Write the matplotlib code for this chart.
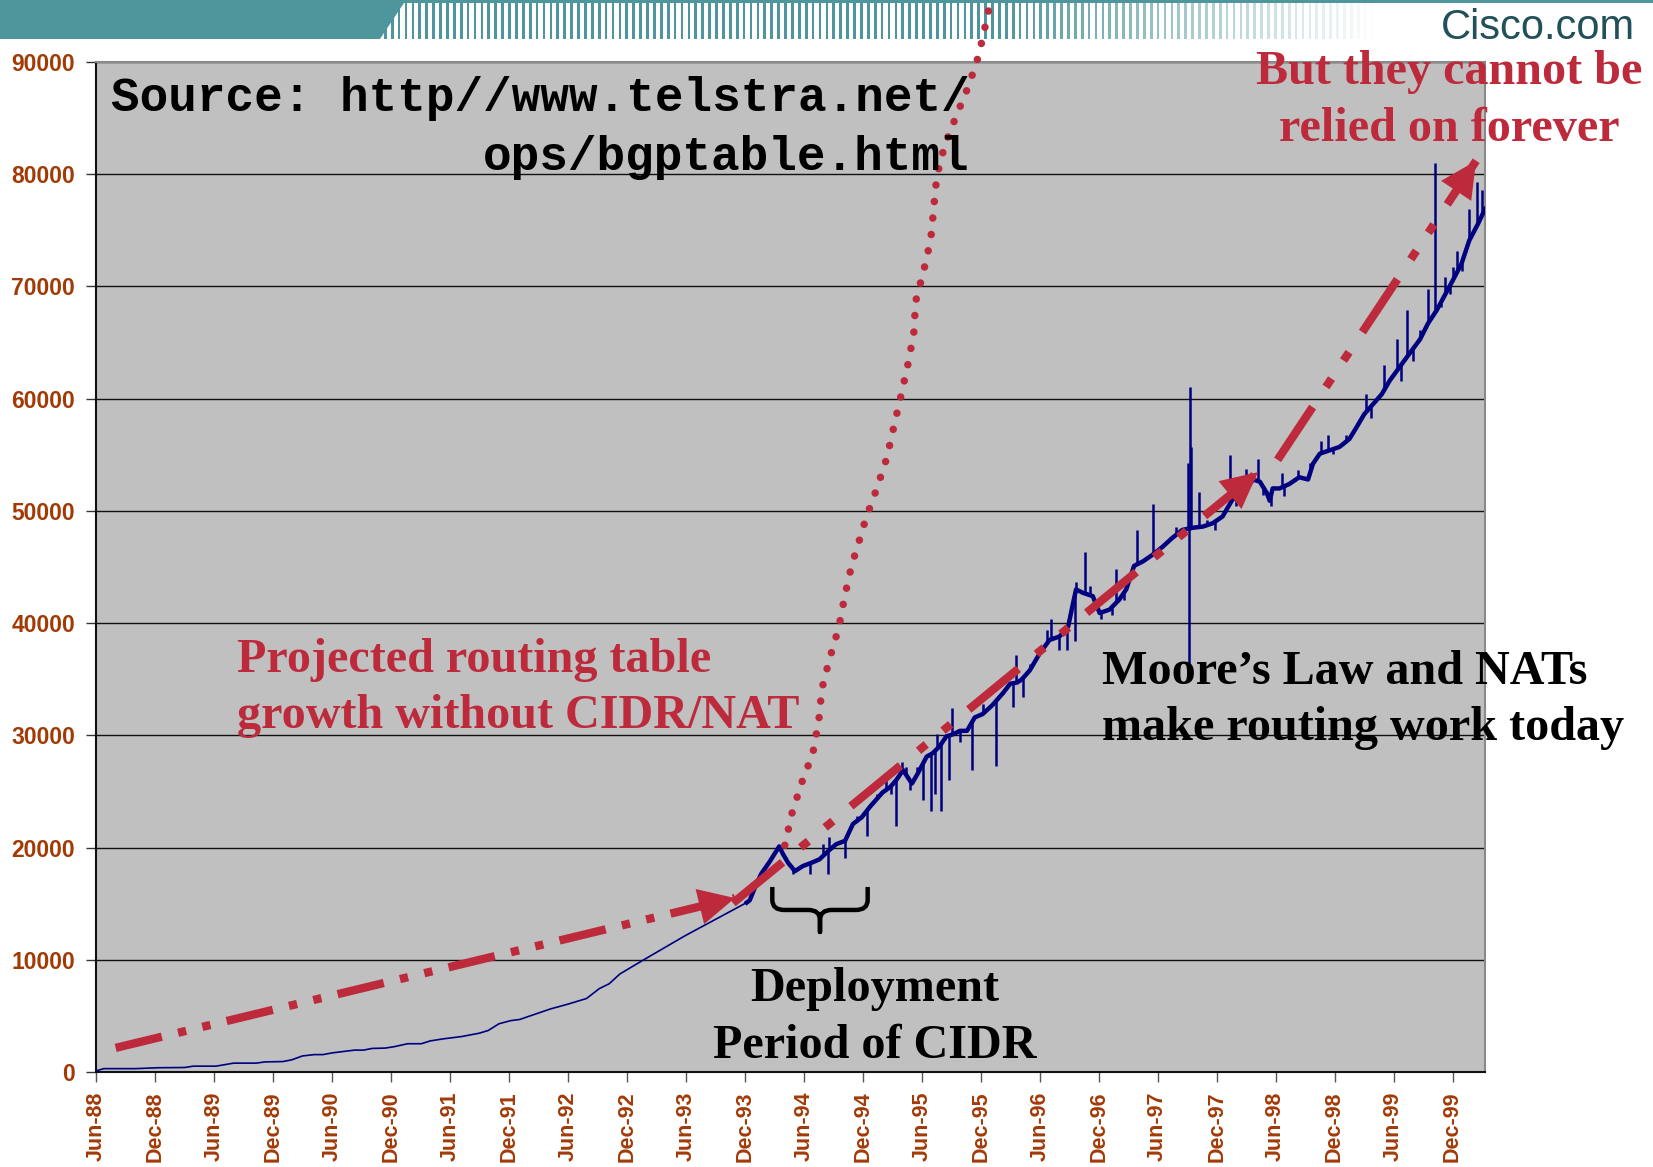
import numpy as np
import matplotlib
matplotlib.use('Agg')
import matplotlib.pyplot as plt
from matplotlib.path import Path
from matplotlib.patches import PathPatch, Polygon, Rectangle

# x axis: months since Jun-88
tick_months = [0, 6, 12, 18, 24, 30, 36, 42, 48, 54, 60, 66,
               72, 78, 84, 90, 96, 102, 108, 114, 120, 126, 132, 138]
tick_labels = ['Jun-88', 'Dec-88', 'Jun-89', 'Dec-89', 'Jun-90', 'Dec-90',
               'Jun-91', 'Dec-91', 'Jun-92', 'Dec-92', 'Jun-93', 'Dec-93',
               'Jun-94', 'Dec-94', 'Jun-95', 'Dec-95', 'Jun-96', 'Dec-96',
               'Jun-97', 'Dec-97', 'Jun-98', 'Dec-98', 'Jun-99', 'Dec-99']
y_ticks = [0, 10000, 20000, 30000, 40000, 50000, 60000, 70000, 80000, 90000]

# early (monthly) routing table size
early_m = [0, 0.8, 4, 6.3, 9, 9.9, 12.2, 14, 16.3, 17.2, 19, 19.9, 21, 22.2,
           23.1, 24, 26.3, 27.2, 28.1, 29.4, 30.3, 31.7, 33.1, 34, 35.3, 37.2,
           39, 39.9, 41, 42.2, 43.1, 44.4, 46.2, 48.1, 49.9, 51.2, 52.2, 53.3,
           55.8, 59.9, 66.2]
early_v = [100, 300, 300, 380, 400, 520, 520, 790, 790, 900, 930, 1080, 1430,
           1550, 1550, 1700, 1950, 1950, 2100, 2130, 2250, 2520, 2520, 2770,
           2950, 3160, 3460, 3700, 4300, 4580, 4680, 5070, 5610, 6070, 6550,
           7430, 7860, 8740, 10040, 12130, 15100]

# daily samples from Dec-93 onwards
daily_m = [66.2, 66.5, 67.2, 67.7, 68.5, 69.5, 69.9, 70.4, 71.1, 71.9, 72.8,
           73.6, 74.5, 75.3, 76.2, 77.0, 77.9, 78.7, 79.4, 80.0, 80.8, 81.4,
           82.1, 83.0, 83.6, 84.5, 85.1, 85.8, 86.5, 87.2, 87.9, 88.6, 89.4,
           90.2, 91.2, 92.3, 93.0, 93.7, 94.2, 95.0, 96.0, 97.0, 98.0, 98.9,
           99.4, 99.7, 100.4, 101.4, 102.1, 103.1, 104.1, 104.8, 105.6, 106.5,
           107.5, 108.5, 109.5, 110.5, 111.6, 112.6, 113.6, 114.6, 115.6,
           116.6, 117.7, 118.4, 119.1, 119.4, 119.7, 120.4, 121.4, 122.4,
           123.3, 123.8, 124.5, 125.5, 126.5, 127.5, 128.2, 129.0, 129.9,
           130.8, 131.6, 132.6, 133.6, 134.7, 135.5, 136.4, 137.2, 138.0,
           138.9, 139.7, 140.6, 141.3]
daily_v = [15100, 15300, 16800, 17700, 18700, 20100, 19400, 18650, 17900,
           18350, 18650, 18950, 19700, 20300, 20600, 22100, 22700, 23600,
           24300, 24900, 25400, 26000, 26900, 25700, 26600, 28100, 28400,
           29000, 29900, 30100, 30400, 30400, 31600, 31900, 32700, 33800,
           34600, 34700, 35000, 35800, 37300, 38500, 38800, 39700, 41800,
           43000, 42700, 42400, 40900, 41200, 42100, 43000, 45100, 45500,
           46100, 46800, 47600, 48300, 48500, 48600, 48900, 49500, 51000,
           51400, 52800, 52600, 51600, 50900, 52000, 52000, 52400, 53000,
           52800, 54200, 55100, 55400, 55700, 56400, 57400, 58600, 59500,
           60400, 61600, 62800, 64000, 65300, 66700, 67900, 69200, 70500,
           72000, 74100, 75600, 76900]

# single-day outliers (month, value)
spike_m = [67.9, 68.9, 70.9, 72.6, 74.0, 74.5, 74.6, 76.2, 77.4, 78.4, 79.4,
           80.4, 80.9, 81.4, 82.0, 82.4, 82.8, 83.5, 84.1, 84.8, 84.9, 85.3,
           85.6, 86.0, 86.8, 87.1, 87.9, 89.1, 90.2, 91.6, 92.3, 93.3, 93.6,
           94.3, 95.0, 96.7, 97.2, 98.0, 98.8, 99.6, 99.7, 100.6, 101.1,
           101.6, 102.2, 103.4, 103.8, 104.6, 105.9, 106.8, 107.5, 108.9,
           109.9, 111.1, 111.15, 111.3, 111.4, 112.2, 113.0, 113.8, 114.8,
           115.4, 116.0, 117.0, 118.2, 118.7, 119.5, 120.7, 120.9, 122.3,
           123.5, 124.6, 125.3, 125.8, 127.2, 129.2, 129.7, 131.0, 132.3,
           132.8, 133.4, 134.0, 134.7, 135.5, 136.2, 136.8, 137.2, 137.7,
           138.0, 138.5, 139.0, 139.7, 140.1, 140.5, 141.0]
spike_v = [17900, 19400, 17600, 17600, 20300, 17600, 20900, 19100, 22800,
           21000, 24800, 26000, 24800, 21900, 27600, 27200, 25100, 27200,
           24200, 28100, 23300, 24800, 30100, 23300, 26000, 32400, 29400,
           26900, 32800, 27300, 33700, 32500, 37200, 33400, 36400, 39400,
           40400, 37600, 37600, 38400, 43700, 46300, 43300, 41800, 40400,
           40700, 44800, 42100, 48300, 45900, 50600, 47100, 48600, 54300,
           36400, 61000, 55700, 51700, 49200, 48300, 50100, 55000, 50400,
           53700, 54600, 51400, 50400, 53400, 51300, 53600, 54300, 56200,
           56800, 55100, 56800, 60400, 58300, 63000, 65300, 61600, 67900,
           63400, 66100, 69800, 81000, 68200, 70800, 69300, 71700, 73200,
           71400, 76900, 74700, 79300, 78600]

# projected growth without CIDR/NAT
proj_m = [70.07, 70.78, 71.80, 72.92, 73.53, 73.83, 74.65, 75.56, 76.17,
          76.88, 77.39, 78.31, 79.43, 80.44, 81.16, 81.87, 82.58, 83.19,
          83.39, 84.20, 84.92, 85.22, 85.53, 86.34, 87.56, 88.78, 89.80,
          90.51, 91.02]
proj_v = [20200, 23000, 25800, 28400, 31300, 34100, 36900, 39600, 42400,
          45200, 46600, 49300, 52000, 54700, 57500, 60200, 63000, 65800,
          68700, 71400, 74200, 77000, 79800, 82600, 85300, 87900, 90600,
          93400, 95500]

# trend arrows (start, tip)
arrow1_m, arrow1_v = [2.0, 65.0], [2150, 15500]
arrow2_m, arrow2_v = [64.8, 118.2], [15060, 53450]
arrow3_m, arrow3_v = [120.2, 140.4], [54550, 81200]

RED = '#BD2A3B'
BLUE = '#000080'
TICKC = '#A23A06'

W, H = 1653, 1167
fig = plt.figure(figsize=(W / 100, H / 100), dpi=100)
fig.patch.set_facecolor('white')

# --- banner on top
bax = fig.add_axes([0, 0, 1, 1], zorder=0)
bax.set_xlim(0, W)
bax.set_ylim(H, 0)
bax.axis('off')
teal = np.array([0x4F, 0x96, 0x9C]) / 255
bax.add_patch(Polygon([(0, 0), (406, 0), (380, 39), (0, 39)], closed=True,
                      facecolor=teal, edgecolor='none'))
bax.add_patch(Rectangle((0, 0), W, 3, facecolor=teal, edgecolor='none'))
for sx in np.arange(384, 1380, 6.9):
    f = np.clip((sx - 1000) / 380, 0, 1)
    c = teal * (1 - f) + np.ones(3) * f
    bax.add_patch(Rectangle((sx, 3), 2.7, 36, facecolor=c, edgecolor='none'))
bax.text(1441, 39, 'Cisco.com', fontsize=30, color='#22505A',
         family=['Liberation Sans', 'DejaVu Sans'], ha='left', va='baseline')

# --- main chart
ax = fig.add_axes([96 / W, 1 - 1072 / H, (1485 - 96) / W, (1072 - 62) / H],
                  zorder=1)
ax.set_facecolor('#C0C0C0')
ax.set_xlim(0, 141.3)
ax.set_ylim(0, 90000)
ax.set_yticks(y_ticks)
ax.set_yticklabels([str(v) for v in y_ticks])
ax.set_xticks(tick_months)
ax.set_xticklabels(tick_labels, rotation=90)
for lab in ax.get_xticklabels() + ax.get_yticklabels():
    lab.set_family(['Liberation Sans', 'DejaVu Sans'])
    lab.set_fontweight('bold')
    lab.set_color(TICKC)
    lab.set_fontsize(15.5)
for lab in ax.get_yticklabels():
    lab.set_fontsize(16.5)
ax.tick_params(axis='y', length=7, width=1, pad=8, color='#333333')
ax.tick_params(axis='x', length=7, width=1, pad=7, color='#555555')
ax.grid(axis='y', color='#111111', lw=1)
ax.set_axisbelow(True)
for side in ['top', 'right']:
    ax.spines[side].set_color('#8A8A8A')
    ax.spines[side].set_linewidth(1.5)
for side in ['left', 'bottom']:
    ax.spines[side].set_color('#111111')
    ax.spines[side].set_linewidth(1.5)

ax.plot(early_m, early_v, color=BLUE, lw=1.2, zorder=3)
ax.plot(daily_m, daily_v, color=BLUE, lw=3.2, zorder=3)
base = np.interp(spike_m, daily_m, daily_v)
ax.vlines(spike_m, base, spike_v, color=BLUE, lw=1.8, zorder=3)

ax.plot(proj_m, proj_v, color=RED, lw=5.4, linestyle=(0, (0.01, 2.2)),
        dash_capstyle='round', clip_on=False, zorder=5)

LW = 6


def trend_arrow(xs, ys, dashes):
    ax.plot(xs, ys, color=RED, lw=LW, dashes=dashes,
            dash_capstyle='butt', solid_capstyle='butt', zorder=5)
    ax.annotate('', xy=(xs[-1], ys[-1]), xytext=(xs[0], ys[0]),
                arrowprops=dict(arrowstyle='-|>,head_length=26,head_width=13',
                                color=RED, lw=0, mutation_scale=1,
                                shrinkA=0, shrinkB=0), zorder=6)


trend_arrow(arrow1_m, arrow1_v, (5.7, 2.0, 1.0, 2.0, 1.0, 2.0))
trend_arrow(arrow2_m, arrow2_v, (7.7, 2.8, 1.2, 2.6, 1.2, 2.8))
trend_arrow(arrow3_m, arrow3_v, (7.6, 2.9, 1.2, 2.6, 1.2, 2.9))

# brace under the deployment period
bx0, bx1, btop, bmid, btip = 68.8, 78.5, 16490, 14440, 12480
rx, ry = 1.2, 900
bxc = (bx0 + bx1) / 2
verts = [(bx0, btop), (bx0, bmid + ry), (bx0, bmid), (bx0 + rx, bmid),
         (bxc - rx, bmid), (bxc, bmid), (bxc, bmid - ry), (bxc, btip),
         (bxc, bmid - ry), (bxc, bmid), (bxc + rx, bmid),
         (bx1 - rx, bmid), (bx1, bmid), (bx1, bmid + ry), (bx1, btop)]
codes = [Path.MOVETO, Path.LINETO, Path.CURVE3, Path.CURVE3,
         Path.LINETO, Path.CURVE3, Path.CURVE3, Path.LINETO,
         Path.LINETO, Path.CURVE3, Path.CURVE3,
         Path.LINETO, Path.CURVE3, Path.CURVE3, Path.LINETO]
ax.add_patch(PathPatch(Path(verts, codes), facecolor='none', edgecolor='black',
                       lw=3.2, capstyle='butt', joinstyle='round', zorder=6))

serif = ['Liberation Serif', 'DejaVu Serif']
ax.text(88.9, 84100, 'Source: http//www.telstra.net/\nops/bgptable.html',
        family=['Liberation Mono', 'DejaVu Sans Mono'], fontweight='bold',
        fontsize=34.3, ha='right', va='center', multialignment='right',
        linespacing=1.4, zorder=7)
ax.text(137.7, 86580, 'But they cannot be\nrelied on forever', family=serif,
        fontweight='bold', fontsize=34.7, color=RED, ha='center', va='center',
        linespacing=1.37, zorder=7)
ax.text(14.3, 34200, 'Projected routing table\ngrowth without CIDR/NAT',
        family=serif, fontweight='bold', fontsize=34.7, color=RED, ha='left',
        va='center', linespacing=1.37, zorder=7)
ax.text(102.3, 33150, 'Moore\u2019s Law and NATs\nmake routing work today',
        family=serif, fontweight='bold', fontsize=34.7, color='black',
        ha='left', va='center', linespacing=1.37, zorder=7)
ax.text(79.2, 4870, 'Deployment\nPeriod of CIDR', family=serif,
        fontweight='bold', fontsize=34.7, color='black', ha='center',
        va='center', linespacing=1.37, zorder=7)

fig.savefig('out.png', dpi=100, facecolor='white')
